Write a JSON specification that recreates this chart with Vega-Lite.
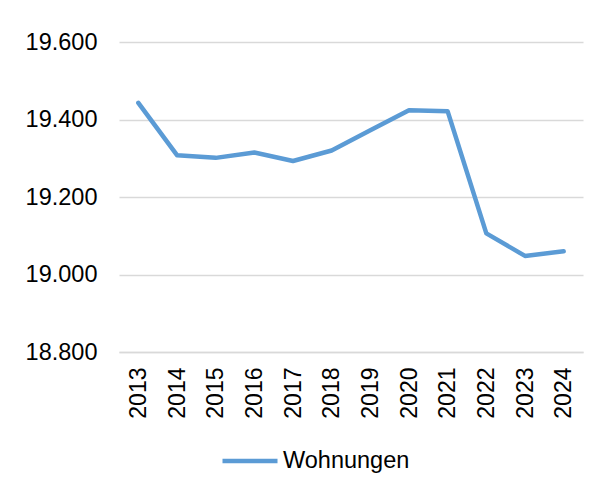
{
  "$schema": "https://vega.github.io/schema/vega-lite/v6.json",
  "width": 464,
  "height": 310,
  "autosize": {"type": "none"},
  "padding": {"left": 119, "top": 42, "right": 19, "bottom": 136},
  "background": "white",
  "config": {
    "view": {"stroke": null},
    "font": "Liberation Sans"
  },
  "data": {
    "values": [
      {"Jahr": "2013", "Wert": 19443, "Serie": "Wohnungen"},
      {"Jahr": "2014", "Wert": 19308, "Serie": "Wohnungen"},
      {"Jahr": "2015", "Wert": 19301, "Serie": "Wohnungen"},
      {"Jahr": "2016", "Wert": 19315, "Serie": "Wohnungen"},
      {"Jahr": "2017", "Wert": 19293, "Serie": "Wohnungen"},
      {"Jahr": "2018", "Wert": 19320, "Serie": "Wohnungen"},
      {"Jahr": "2019", "Wert": 19372, "Serie": "Wohnungen"},
      {"Jahr": "2020", "Wert": 19424, "Serie": "Wohnungen"},
      {"Jahr": "2021", "Wert": 19421, "Serie": "Wohnungen"},
      {"Jahr": "2022", "Wert": 19106, "Serie": "Wohnungen"},
      {"Jahr": "2023", "Wert": 19048, "Serie": "Wohnungen"},
      {"Jahr": "2024", "Wert": 19060, "Serie": "Wohnungen"}
    ]
  },
  "mark": {"type": "line", "strokeWidth": 4.5, "strokeCap": "round", "strokeJoin": "round"},
  "encoding": {
    "x": {
      "field": "Jahr",
      "type": "ordinal",
      "scale": {"type": "point", "padding": 0.5},
      "axis": {
        "title": null,
        "labelAngle": 270,
        "labelAlign": "right",
        "labelBaseline": "middle",
        "labelFontSize": 23,
        "labelColor": "#000000",
        "labelPadding": 15,
        "ticks": false,
        "domain": true,
        "domainColor": "#d9d9d9",
        "domainWidth": 1.5,
        "grid": false
      }
    },
    "y": {
      "field": "Wert",
      "type": "quantitative",
      "scale": {"domain": [18800, 19600], "nice": false, "zero": false},
      "axis": {
        "title": null,
        "values": [18800, 19000, 19200, 19400, 19600],
        "labelExpr": "replace(format(datum.value, ',.0f'), ',', '.')",
        "labelFontSize": 23.5,
        "labelColor": "#000000",
        "labelPadding": 22,
        "ticks": false,
        "domain": false,
        "grid": true,
        "gridColor": "#d9d9d9",
        "gridWidth": 1.5
      }
    },
    "color": {
      "field": "Serie",
      "type": "nominal",
      "scale": {"range": ["#5b9bd5"]},
      "legend": {
        "title": null,
        "orient": "none",
        "legendX": 101,
        "legendY": 389,
        "symbolType": "stroke",
        "symbolSize": 3025,
        "symbolStrokeWidth": 4.5,
        "labelFontSize": 23.5,
        "labelColor": "#000000",
        "labelOffset": 3
      }
    }
  }
}
